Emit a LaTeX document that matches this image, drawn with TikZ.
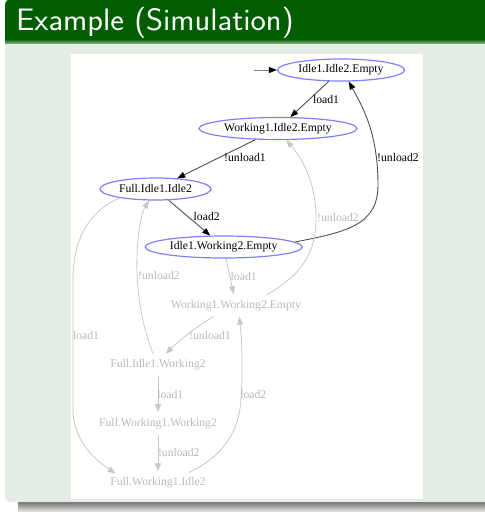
\documentclass[tikz,border=0pt]{standalone}
\usepackage{fontspec}
\newfontfamily\graphfont{Liberation Serif}
\usetikzlibrary{arrows.meta,shapes.geometric}

\definecolor{titlegreen}{RGB}{0,94,0}
\definecolor{blockbody}{RGB}{228,237,228}
\definecolor{stateblue}{RGB}{128,128,255}
\definecolor{fadedtext}{RGB}{185,185,185}
\definecolor{fadedline}{RGB}{200,200,200}
\definecolor{activeline}{RGB}{80,80,80}

\begin{document}
\begin{tikzpicture}[x=1pt,y=-1pt,
  gfont/.style={font=\graphfont\fontsize{11.7}{14}\selectfont},
  state/.style={ellipse, draw=stateblue, line width=1.2pt, minimum height=22pt,
    inner sep=0pt, gfont, text=black},
  faded/.style={ellipse, draw=none, minimum height=22pt, inner sep=0pt,
    gfont, text=fadedtext},
  elabel/.style={inner sep=0pt, gfont, text=black},
  flabel/.style={inner sep=0pt, gfont, text=fadedtext},
  trans/.style={draw=activeline, line width=0.9pt,
    -{Triangle[length=8pt,width=6pt,color=black]}},
  ftrans/.style={draw=fadedline, line width=0.8pt,
    -{Triangle[length=8pt,width=6pt,color=fadedline]}},
]
\useasboundingbox (0,0) rectangle (485,512);

% slide background: shadow, block body, title bar
\shade[top color=black!60, bottom color=black!12] (18,501) rectangle (490,511);
\fill[blockbody, rounded corners=6pt] (5,30) rectangle (492,502);
\fill[titlegreen] (5,40) {[rounded corners=6pt] -- (5,-1) -- (492,-1)} -- (492,40) -- cycle;
\shade[top color=titlegreen, bottom color=titlegreen!50!white] (5,39) rectangle (492,43.5);
\node[anchor=base west, inner sep=0pt, text=white, xscale=1.05,
  font=\sffamily\fontsize{31}{34}\selectfont] (title) at (16,30) {Example (Simulation)};

% drawing area
\fill[white] (71,54) rectangle (423,499);

% states
\node[state, minimum width=127pt] (A) at (341,70) {Idle1.Idle2.Empty};
\node[state, minimum width=158pt] (B) at (278,128.5) {Working1.Idle2.Empty};
\node[state, minimum width=111pt] (C) at (155.5,189) {Full.Idle1.Idle2};
\node[state, minimum width=157pt] (D) at (223.7,247) {Idle1.Working2.Empty};
\node[faded, minimum width=193pt] (E) at (236,305.5) {Working1.Working2.Empty};
\node[faded, minimum width=141pt] (F) at (158,365) {Full.Idle1.Working2};
\node[faded, minimum width=173pt] (G) at (158,423.3) {Full.Working1.Working2};
\node[faded, minimum width=141pt] (H) at (158,482.5) {Full.Working1.Idle2};

% initial marker
\coordinate (init) at (254,70);
\draw[draw=black!50, line width=0.9pt, -{Triangle[length=8pt,width=6pt,color=black]}] (init) -- (A);

% reachable transitions
\draw[trans] (A) -- (B);
\draw[trans] (B) -- (C);
\draw[trans] (C) -- (D);
\draw[trans] (D.4) .. controls (345,232) and (378,226) .. (378,185)
  .. controls (378,132) and (362,106) .. (A.-56);

% remaining transitions
\draw[ftrans] (D) -- (E);
\draw[ftrans] (E.19) .. controls (300,275) and (317,255) .. (316,215)
  .. controls (315,178) and (300,156) .. (B.-55);
\draw[ftrans] (E.206) .. controls (196,327) and (180,340) .. (F.56);
\draw[ftrans] (F.114) .. controls (141,322) and (136,290) .. (137,255)
  .. controls (138,228) and (142,212) .. (C.-119);
\draw[ftrans] (C.194) .. controls (92,210) and (73,235) .. (73,280)
  -- (73,410) .. controls (73,440) and (95,460) .. (H.168);
\draw[ftrans] (F) -- (G);
\draw[ftrans] (G) -- (H);
\draw[ftrans] (H.18) .. controls (215,460) and (238,440) .. (241,400)
  .. controls (243,370) and (242,340) .. (E.-74);

% transition labels
\node[elabel] (lAB) at (326,99.3) {load1};
\node[elabel] (lBC) at (245,157.3) {!unload1};
\node[elabel] (lCD) at (206.7,216.7) {load2};
\node[elabel] (lDA) at (398,157.7) {!unload2};
\node[flabel] (lEB) at (338,217.3) {!unload2};
\node[flabel] (lDE) at (243.7,276) {load1};
\node[flabel] (lFC) at (159,276) {!unload2};
\node[flabel] (lCH) at (86,335.7) {load1};
\node[flabel] (lEF) at (210,335.7) {!unload1};
\node[flabel] (lFG) at (170.3,394.3) {load1};
\node[flabel] (lHE) at (253.3,394.3) {load2};
\node[flabel] (lGH) at (178.8,452.7) {!unload2};
\end{tikzpicture}
\end{document}
